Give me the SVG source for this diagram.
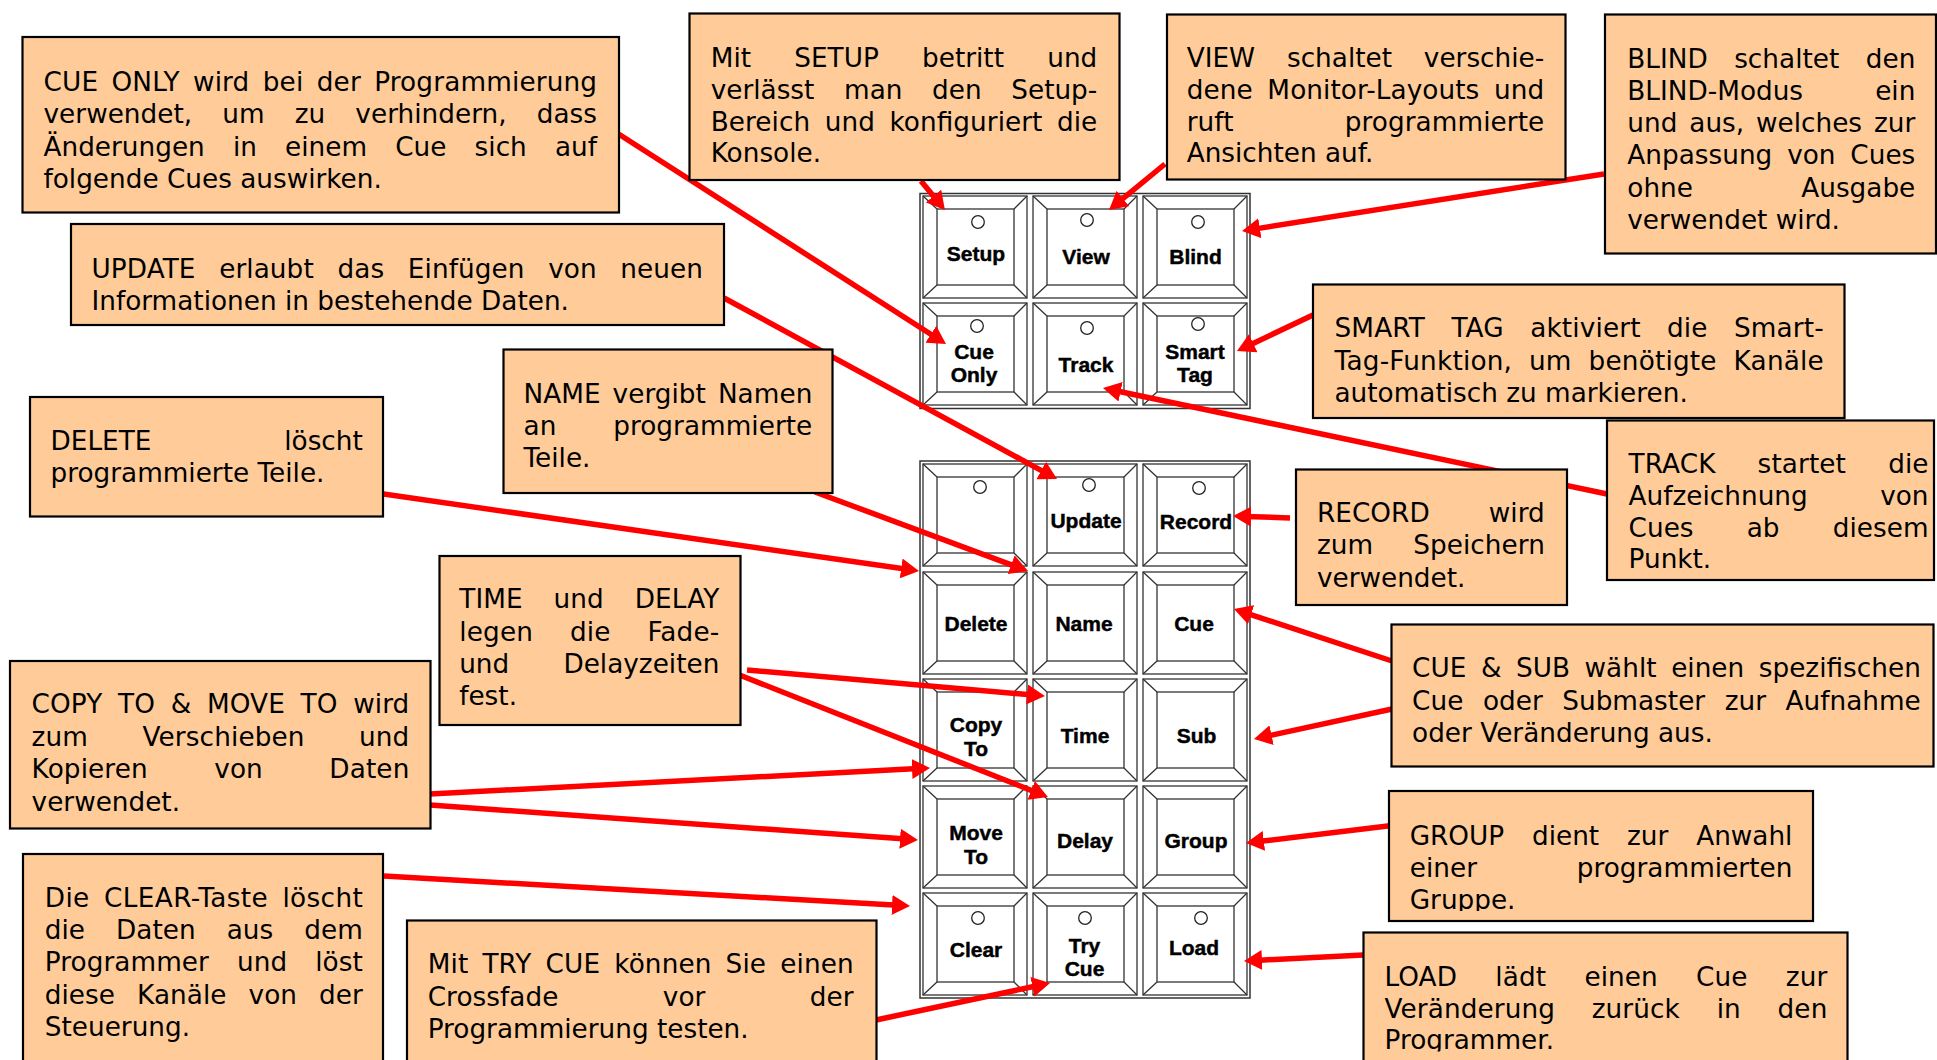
<svg xmlns="http://www.w3.org/2000/svg" width="1937" height="1060" viewBox="0 0 1937 1060">
<style>
.bg{fill:#fff}
.box{fill:#FFCC99;stroke:#000;stroke-width:2.2}
.t{font-family:"DejaVu Sans",Verdana,sans-serif;font-size:26.3px;fill:#000}
.k{font-family:"Liberation Sans",Arial,sans-serif;font-size:21px;font-weight:bold;text-anchor:middle;fill:#000;stroke:#000;stroke-width:0.45}
.panel{fill:#fff;stroke:#333;stroke-width:1.5}
.kb{fill:#fff;stroke:#333;stroke-width:1.3}
.kl{fill:none;stroke:#333;stroke-width:1.3}
.led{fill:#fff;stroke:#222;stroke-width:1.3}
.arrow{stroke:#FF0000;stroke-width:5.5;fill:none;marker-end:url(#ah)}
</style>
<defs>
<marker id="ah" markerUnits="userSpaceOnUse" markerWidth="18" markerHeight="20" viewBox="0 0 18 20" refX="6" refY="10" orient="auto"><path d="M0,0 L18,10 L0,20 z" fill="#FF0000"/></marker>
<g id="keyshape">
<rect class="kb" x="0" y="0" width="104" height="102"/>
<rect class="kl" x="14" y="13" width="77" height="76"/>
<path class="kl" d="M0,0 L14,13 M104,0 L91,13 M0,102 L14,89 M104,102 L91,89"/>
</g>
<clipPath id="clipGroup"><rect x="1389" y="791" width="424" height="120"/></clipPath>
<clipPath id="clipLoad"><rect x="1363" y="932" width="485" height="119.5"/></clipPath>
</defs>
<rect class="bg" x="0" y="0" width="1937" height="1060"/>

<g id="panel-top">
<rect class="panel" x="920" y="193.5" width="330" height="215"/>
</g>
<g id="panel-bottom">
<rect class="panel" x="920" y="461" width="330" height="537"/>
</g>

<g id="key-setup"><use href="#keyshape" x="923" y="196"/><circle class="led" cx="978" cy="222" r="6.3"/><text class="k" x="976" y="260.5">Setup</text></g>
<g id="key-view"><use href="#keyshape" x="1033" y="196"/><circle class="led" cx="1087" cy="220" r="6.3"/><text class="k" x="1086" y="263.5">View</text></g>
<g id="key-blind"><use href="#keyshape" x="1143" y="196"/><circle class="led" cx="1198" cy="222" r="6.3"/><text class="k" x="1195.5" y="264">Blind</text></g>
<g id="key-cueonly"><use href="#keyshape" x="923" y="303"/><circle class="led" cx="977" cy="326" r="6.3"/><text class="k"><tspan x="974" y="358.5">Cue</tspan><tspan x="974" y="382">Only</tspan></text></g>
<g id="key-track"><use href="#keyshape" x="1033" y="303"/><circle class="led" cx="1087" cy="328" r="6.3"/><text class="k" x="1086" y="371.5">Track</text></g>
<g id="key-smarttag"><use href="#keyshape" x="1143" y="303"/><circle class="led" cx="1198" cy="324" r="6.3"/><text class="k"><tspan x="1195" y="358.5">Smart</tspan><tspan x="1195" y="382">Tag</tspan></text></g>

<g id="key-blank"><use href="#keyshape" x="923" y="464"/><circle class="led" cx="980" cy="487" r="6.3"/></g>
<g id="key-update"><use href="#keyshape" x="1033" y="464"/><circle class="led" cx="1089" cy="485" r="6.3"/><text class="k" x="1086" y="527.5">Update</text></g>
<g id="key-record"><use href="#keyshape" x="1143" y="464"/><circle class="led" cx="1199" cy="488" r="6.3"/><text class="k" x="1196" y="529">Record</text></g>
<g id="key-delete"><use href="#keyshape" x="923" y="572"/><text class="k" x="976" y="631">Delete</text></g>
<g id="key-name"><use href="#keyshape" x="1033" y="572"/><text class="k" x="1084" y="631">Name</text></g>
<g id="key-cue"><use href="#keyshape" x="1143" y="572"/><text class="k" x="1194" y="631">Cue</text></g>
<g id="key-copyto"><use href="#keyshape" x="923" y="679"/><text class="k"><tspan x="976" y="731.5">Copy</tspan><tspan x="976" y="755.5">To</tspan></text></g>
<g id="key-time"><use href="#keyshape" x="1033" y="679"/><text class="k" x="1085" y="743">Time</text></g>
<g id="key-sub"><use href="#keyshape" x="1143" y="679"/><text class="k" x="1196.5" y="742.5">Sub</text></g>
<g id="key-moveto"><use href="#keyshape" x="923" y="786"/><text class="k"><tspan x="976" y="839.5">Move</tspan><tspan x="976" y="864">To</tspan></text></g>
<g id="key-delay"><use href="#keyshape" x="1033" y="786"/><text class="k" x="1085" y="847.5">Delay</text></g>
<g id="key-group"><use href="#keyshape" x="1143" y="786"/><text class="k" x="1196" y="847.5">Group</text></g>
<g id="key-clear"><use href="#keyshape" x="923" y="893"/><circle class="led" cx="978" cy="918" r="6.3"/><text class="k" x="976" y="957">Clear</text></g>
<g id="key-trycue"><use href="#keyshape" x="1033" y="893"/><circle class="led" cx="1085" cy="918" r="6.3"/><text class="k"><tspan x="1084.5" y="952.5">Try</tspan><tspan x="1084.5" y="976">Cue</tspan></text></g>
<g id="key-load"><use href="#keyshape" x="1143" y="893"/><circle class="led" cx="1201" cy="918" r="6.3"/><text class="k" x="1194" y="955">Load</text></g>

<g id="connectors">
<line class="arrow" x1="617" y1="133" x2="935.9" y2="337.5"/>
<line class="arrow" x1="921" y1="181" x2="937.3" y2="200.7"/>
<line class="arrow" x1="1165" y1="164" x2="1118.3" y2="202.4"/>
<line class="arrow" x1="1604" y1="174" x2="1253.9" y2="229.1"/>
<line class="arrow" x1="724" y1="298" x2="1046.5" y2="473.3"/>
<line class="arrow" x1="1313" y1="315" x2="1247.8" y2="345.9"/>
<line class="arrow" x1="815" y1="492" x2="1016.8" y2="566.8"/>
<line class="arrow" x1="1607" y1="494" x2="1114.7" y2="390.5"/>
<line class="arrow" x1="349" y1="489" x2="907.1" y2="569.3"/>
<line class="arrow" x1="1290" y1="518" x2="1245" y2="516.4"/>
<line class="arrow" x1="747" y1="670" x2="1033" y2="695"/>
<line class="arrow" x1="737" y1="674" x2="1036.8" y2="792.6"/>
<line class="arrow" x1="430" y1="794" x2="918" y2="768.6"/>
<line class="arrow" x1="430" y1="805" x2="906" y2="839.1"/>
<line class="arrow" x1="384" y1="876" x2="898" y2="905.3"/>
<line class="arrow" x1="876" y1="1020" x2="1038.3" y2="985.5"/>
<line class="arrow" x1="1392" y1="661" x2="1245.4" y2="612.8"/>
<line class="arrow" x1="1392" y1="709" x2="1265.7" y2="736.4"/>
<line class="arrow" x1="1396" y1="825" x2="1257.9" y2="841.6"/>
<line class="arrow" x1="1363" y1="955" x2="1256" y2="960.4"/>
</g>

<g id="note-cueonly">
<rect class="box" x="22.5" y="37" width="596.5" height="175.5"/>
<text class="t" x="43.5" y="91" textLength="553.5" lengthAdjust="spacing" style="word-spacing:4.8px">CUE ONLY wird bei der Programmierung</text>
<text class="t" x="43.5" y="123.3" textLength="553.5" lengthAdjust="spacing" style="word-spacing:21.7px">verwendet, um zu verhindern, dass</text>
<text class="t" x="43.5" y="155.6" textLength="553.5" lengthAdjust="spacing" style="word-spacing:19.8px">Änderungen in einem Cue sich auf</text>
<text class="t" x="43.5" y="188">folgende Cues auswirken.</text>
</g>

<g id="note-update">
<rect class="box" x="71" y="224" width="653" height="101"/>
<text class="t" x="91.5" y="277.5" textLength="611.5" lengthAdjust="spacing" style="word-spacing:15.2px">UPDATE erlaubt das Einfügen von neuen</text>
<text class="t" x="91.5" y="309.5">Informationen in bestehende Daten.</text>
</g>

<g id="note-setup">
<rect class="box" x="689.5" y="13.5" width="430" height="166.5"/>
<text class="t" x="710.7" y="67.3" textLength="386.6" lengthAdjust="spacing" style="word-spacing:34.9px">Mit SETUP betritt und</text>
<text class="t" x="710.7" y="99" textLength="386.6" lengthAdjust="spacing" style="word-spacing:21.3px">verlässt man den Setup-</text>
<text class="t" x="710.7" y="130.7" textLength="386.6" lengthAdjust="spacing" style="word-spacing:6.1px">Bereich und konfiguriert die</text>
<text class="t" x="710.7" y="162.3">Konsole.</text>
</g>

<g id="note-view">
<rect class="box" x="1167" y="14.5" width="398.5" height="165"/>
<text class="t" x="1186.7" y="67.3" textLength="357.5" lengthAdjust="spacing" style="word-spacing:23.5px">VIEW schaltet verschie-</text>
<text class="t" x="1186.7" y="99" textLength="357.5" lengthAdjust="spacing" style="word-spacing:6.2px">dene Monitor-Layouts und</text>
<text class="t" x="1186.7" y="130.7" textLength="357.5" lengthAdjust="spacing" style="word-spacing:102.8px">ruft programmierte</text>
<text class="t" x="1186.7" y="162.3">Ansichten auf.</text>
</g>

<g id="note-blind">
<rect class="box" x="1605" y="14.5" width="331" height="239"/>
<text class="t" x="1627.3" y="67.7" textLength="288" lengthAdjust="spacing" style="word-spacing:18.1px">BLIND schaltet den</text>
<text class="t" x="1627.3" y="99.7" textLength="288" lengthAdjust="spacing" style="word-spacing:63.7px">BLIND-Modus ein</text>
<text class="t" x="1627.3" y="132" textLength="288" lengthAdjust="spacing" style="word-spacing:3.6px">und aus, welches zur</text>
<text class="t" x="1627.3" y="164.3" textLength="288" lengthAdjust="spacing" style="word-spacing:6.5px">Anpassung von Cues</text>
<text class="t" x="1627.3" y="197" textLength="288" lengthAdjust="spacing" style="word-spacing:100px">ohne Ausgabe</text>
<text class="t" x="1627.3" y="229">verwendet wird.</text>
</g>

<g id="note-smarttag">
<rect class="box" x="1313" y="284.5" width="531.5" height="133.5"/>
<text class="t" x="1334.5" y="337.3" textLength="489.3" lengthAdjust="spacing" style="word-spacing:17.8px">SMART TAG aktiviert die Smart-</text>
<text class="t" x="1334.5" y="369.5" textLength="489.3" lengthAdjust="spacing" style="word-spacing:8.3px">Tag-Funktion, um benötigte Kanäle</text>
<text class="t" x="1334.5" y="401.7">automatisch zu markieren.</text>
</g>

<g id="note-track">
<rect class="box" x="1607" y="420.5" width="327" height="159.5"/>
<text class="t" x="1628.6" y="473.3" textLength="299.9" lengthAdjust="spacing" style="word-spacing:33.7px">TRACK startet die</text>
<text class="t" x="1628.6" y="505" textLength="299.9" lengthAdjust="spacing" style="word-spacing:64.1px">Aufzeichnung von</text>
<text class="t" x="1628.6" y="536.7" textLength="299.9" lengthAdjust="spacing" style="word-spacing:44.9px">Cues ab diesem</text>
<text class="t" x="1628.6" y="568.3">Punkt.</text>
</g>

<g id="note-record">
<rect class="box" x="1296" y="469.5" width="271" height="135.5"/>
<text class="t" x="1316.9" y="522.3" textLength="227.9" lengthAdjust="spacing" style="word-spacing:50.7px">RECORD wird</text>
<text class="t" x="1316.9" y="554.3" textLength="227.9" lengthAdjust="spacing" style="word-spacing:31.8px">zum Speichern</text>
<text class="t" x="1316.9" y="586.7">verwendet.</text>
</g>

<g id="note-name">
<rect class="box" x="503.5" y="349.5" width="329" height="143.5"/>
<text class="t" x="523.5" y="402.7" textLength="288.8" lengthAdjust="spacing" style="word-spacing:3.6px">NAME vergibt Namen</text>
<text class="t" x="523.5" y="434.7" textLength="288.8" lengthAdjust="spacing" style="word-spacing:48.4px">an programmierte</text>
<text class="t" x="523.5" y="467">Teile.</text>
</g>

<g id="note-delete">
<rect class="box" x="30" y="397" width="353" height="119.5"/>
<text class="t" x="50.5" y="450" textLength="312.3" lengthAdjust="spacing" style="word-spacing:124.5px">DELETE löscht</text>
<text class="t" x="50.5" y="481.7">programmierte Teile.</text>
</g>

<g id="note-time">
<rect class="box" x="439.5" y="556" width="301" height="169"/>
<text class="t" x="459.2" y="608.3" textLength="260.1" lengthAdjust="spacing" style="word-spacing:22.3px">TIME und DELAY</text>
<text class="t" x="459.2" y="640.7" textLength="260.1" lengthAdjust="spacing" style="word-spacing:28.3px">legen die Fade-</text>
<text class="t" x="459.2" y="673.3" textLength="260.1" lengthAdjust="spacing" style="word-spacing:45.8px">und Delayzeiten</text>
<text class="t" x="459.2" y="704.5">fest.</text>
</g>

<g id="note-copy">
<rect class="box" x="10" y="661" width="420.5" height="167.5"/>
<text class="t" x="31.6" y="713.3" textLength="377.7" lengthAdjust="spacing" style="word-spacing:7.3px">COPY TO &amp; MOVE TO wird</text>
<text class="t" x="31.6" y="745.7" textLength="377.7" lengthAdjust="spacing" style="word-spacing:46px">zum Verschieben und</text>
<text class="t" x="31.6" y="778.3" textLength="377.7" lengthAdjust="spacing" style="word-spacing:58px">Kopieren von Daten</text>
<text class="t" x="31.6" y="810.7">verwendet.</text>
</g>

<g id="note-clear">
<rect class="box" x="23" y="854" width="360" height="215"/>
<text class="t" x="44.8" y="906.7" textLength="318" lengthAdjust="spacing" style="word-spacing:5.6px">Die CLEAR-Taste löscht</text>
<text class="t" x="44.8" y="939" textLength="318" lengthAdjust="spacing" style="word-spacing:22.7px">die Daten aus dem</text>
<text class="t" x="44.8" y="971.3" textLength="318" lengthAdjust="spacing" style="word-spacing:19.6px">Programmer und löst</text>
<text class="t" x="44.8" y="1003.5" textLength="318" lengthAdjust="spacing" style="word-spacing:13.7px">diese Kanäle von der</text>
<text class="t" x="44.8" y="1036">Steuerung.</text>
</g>

<g id="note-trycue">
<rect class="box" x="407" y="920.5" width="469.5" height="150"/>
<text class="t" x="427.7" y="973.3" textLength="425.9" lengthAdjust="spacing" style="word-spacing:5.7px">Mit TRY CUE können Sie einen</text>
<text class="t" x="427.7" y="1005.7" textLength="425.9" lengthAdjust="spacing" style="word-spacing:96px">Crossfade vor der</text>
<text class="t" x="427.7" y="1038.3">Programmierung testen.</text>
</g>

<g id="note-cuesub">
<rect class="box" x="1391.5" y="624.5" width="542" height="142"/>
<text class="t" x="1412.1" y="677.3" textLength="508.7" lengthAdjust="spacing" style="word-spacing:6.2px">CUE &amp; SUB wählt einen spezifischen</text>
<text class="t" x="1412.1" y="709.5" textLength="508.7" lengthAdjust="spacing" style="word-spacing:11.2px">Cue oder Submaster zur Aufnahme</text>
<text class="t" x="1412.1" y="741.7">oder Veränderung aus.</text>
</g>

<g id="note-group">
<rect class="box" x="1389" y="791" width="424" height="130"/>
<text class="t" x="1409.7" y="845" textLength="382.7" lengthAdjust="spacing" style="word-spacing:19.5px">GROUP dient zur Anwahl</text>
<text class="t" x="1409.7" y="877.3" textLength="382.7" lengthAdjust="spacing" style="word-spacing:91.3px">einer programmierten</text>
<text class="t" x="1409.7" y="909.3" clip-path="url(#clipGroup)">Gruppe.</text>
</g>

<g id="note-load">
<rect class="box" x="1363.5" y="932.5" width="484" height="140"/>
<text class="t" x="1384.5" y="985.7" textLength="442.8" lengthAdjust="spacing" style="word-spacing:29.9px">LOAD lädt einen Cue zur</text>
<text class="t" x="1384.5" y="1017.7" textLength="442.8" lengthAdjust="spacing" style="word-spacing:28.3px">Veränderung zurück in den</text>
<text class="t" x="1384.5" y="1049.3" clip-path="url(#clipLoad)">Programmer.</text>
</g>
</svg>
